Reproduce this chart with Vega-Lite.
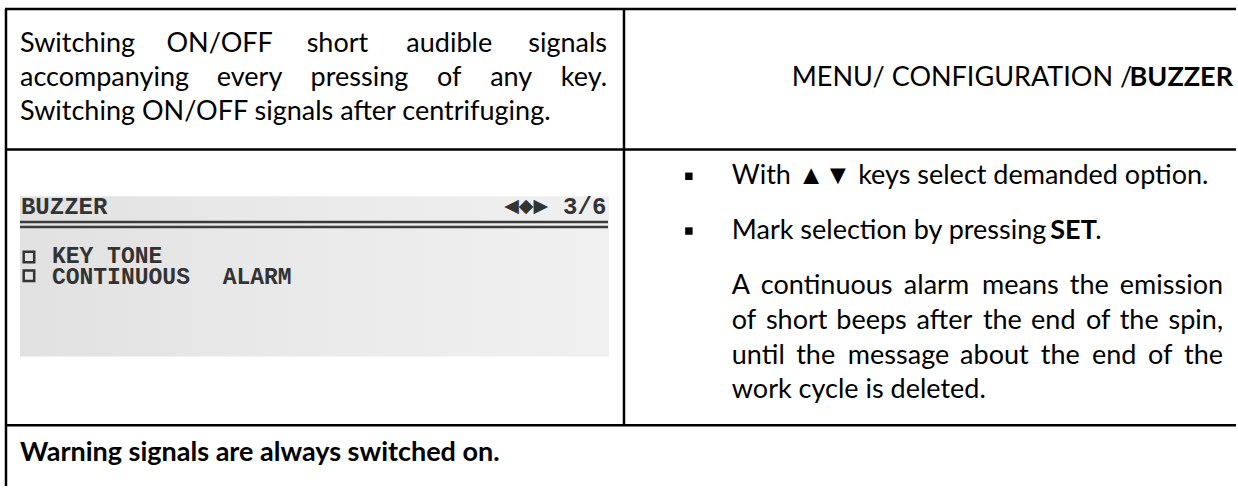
{
  "$schema": "https://vega.github.io/schema/vega-lite/v6.json",
  "width": 1238,
  "height": 488,
  "padding": 0,
  "autosize": {"type": "fit", "contains": "padding"},
  "background": "white",
  "config": {"view": {"stroke": null}, "font": "Lato"},
  "datasets": {
    "lcd": [{"x": 20, "x2": 610, "y": 197, "y2": 358}],
    "lines": [
      {"x": 5, "x2": 1238, "y": 9, "y2": 9},
      {"x": 6, "x2": 6, "y": 9, "y2": 488},
      {"x": 625, "x2": 625, "y": 9, "y2": 427},
      {"x": 5, "x2": 1238, "y": 150, "y2": 150},
      {"x": 5, "x2": 1238, "y": 427, "y2": 427}
    ],
    "lcdLines": [
      {"x": 20, "x2": 609, "y": 223, "y2": 223},
      {"x": 20, "x2": 609, "y": 228, "y2": 228}
    ],
    "bodyLeft": [
      {"x": 20, "y": 44, "t": "Switching"},
      {"x": 20, "y": 78, "t": "accompanying"},
      {"x": 20, "y": 112, "t": "Switching ON/OFF signals after centrifuging."},
      {"x": 733, "y": 177, "t": "With ▲▼ keys select demanded option."},
      {"x": 733, "y": 232, "t": "Mark selection by pressing"},
      {"x": 1097, "y": 232, "t": "."},
      {"x": 733, "y": 287, "t": "A"},
      {"x": 733, "y": 322, "t": "of"},
      {"x": 733, "y": 357, "t": "until"},
      {"x": 733, "y": 392, "t": "work cycle is deleted."}
    ],
    "bodyCenter": [
      {"x": 220, "y": 44, "t": "ON/OFF"},
      {"x": 338, "y": 44, "t": "short"},
      {"x": 450, "y": 44, "t": "audible"},
      {"x": 250, "y": 78, "t": "every"},
      {"x": 360, "y": 78, "t": "pressing"},
      {"x": 450, "y": 78, "t": "of"},
      {"x": 512, "y": 78, "t": "any"},
      {"x": 828, "y": 287, "t": "continuous"},
      {"x": 938, "y": 287, "t": "alarm"},
      {"x": 1022, "y": 287, "t": "means"},
      {"x": 1091, "y": 287, "t": "the"},
      {"x": 798, "y": 322, "t": "short"},
      {"x": 873, "y": 322, "t": "beeps"},
      {"x": 946, "y": 322, "t": "after"},
      {"x": 1004, "y": 322, "t": "the"},
      {"x": 1055, "y": 322, "t": "end"},
      {"x": 1100, "y": 322, "t": "of"},
      {"x": 1141, "y": 322, "t": "the"},
      {"x": 817, "y": 357, "t": "the"},
      {"x": 900, "y": 357, "t": "message"},
      {"x": 996, "y": 357, "t": "about"},
      {"x": 1062, "y": 357, "t": "the"},
      {"x": 1116, "y": 357, "t": "end"},
      {"x": 1162, "y": 357, "t": "of"}
    ],
    "bodyRight": [
      {"x": 608, "y": 44, "t": "signals"},
      {"x": 608, "y": 78, "t": "key."},
      {"x": 1225, "y": 287, "t": "emission"},
      {"x": 1225, "y": 322, "t": "spin,"},
      {"x": 1225, "y": 357, "t": "the"},
      {"x": 1134, "y": 78, "t": "MENU/ CONFIGURATION /"}
    ],
    "boldRight": [{"x": 1235, "y": 78, "t": "BUZZER"}],
    "boldLeft": [
      {"x": 1052, "y": 232, "t": "SET"},
      {"x": 20, "y": 455, "t": "Warning signals are always switched on."}
    ],
    "bullets": [{"x": 690, "y": 177}, {"x": 690, "y": 232}],
    "lcdBold": [
      {"x": 21, "y": 208, "t": "BUZZER"},
      {"x": 564, "y": 208, "t": "3/6"}
    ],
    "lcdArrows": [{"x": 527, "y": 207, "t": "◀◆▶"}],
    "lcdText": [
      {"x": 52, "y": 257, "t": "KEY TONE"},
      {"x": 52, "y": 278, "t": "CONTINUOUS"},
      {"x": 223, "y": 278, "t": "ALARM"}
    ],
    "lcdBoxes": [{"x": 29, "y": 258}, {"x": 29, "y": 277}]
  },
  "encoding": {
    "x": {"field": "x", "type": "quantitative", "scale": {"domain": [0, 1238], "nice": false, "zero": false}, "axis": null},
    "y": {"field": "y", "type": "quantitative", "scale": {"domain": [0, 488], "reverse": true, "nice": false, "zero": false}, "axis": null}
  },
  "layer": [
    {
      "data": {"name": "lcd"},
      "mark": {"type": "rect", "color": {"gradient": "linear", "x1": 0, "y1": 0, "x2": 1, "y2": 0, "stops": [{"offset": 0, "color": "#e1e1e1"}, {"offset": 0.5, "color": "#eaeaea"}, {"offset": 1, "color": "#f0f0f0"}]}},
      "encoding": {"x2": {"field": "x2"}, "y2": {"field": "y2"}}
    },
    {
      "data": {"name": "lcdLines"},
      "mark": {"type": "rule", "color": "#3c3c3c", "strokeWidth": 2.5},
      "encoding": {"x2": {"field": "x2"}, "y2": {"field": "y2"}}
    },
    {
      "data": {"name": "lines"},
      "mark": {"type": "rule", "color": "#000000", "strokeWidth": 2.5},
      "encoding": {"x2": {"field": "x2"}, "y2": {"field": "y2"}}
    },
    {
      "data": {"name": "bodyLeft"},
      "mark": {"type": "text", "align": "left", "baseline": "middle", "font": "Lato", "fontSize": 27, "color": "#000000"},
      "encoding": {"text": {"field": "t"}}
    },
    {
      "data": {"name": "bodyCenter"},
      "mark": {"type": "text", "align": "center", "baseline": "middle", "font": "Lato", "fontSize": 27, "color": "#000000"},
      "encoding": {"text": {"field": "t"}}
    },
    {
      "data": {"name": "bodyRight"},
      "mark": {"type": "text", "align": "right", "baseline": "middle", "font": "Lato", "fontSize": 27, "color": "#000000"},
      "encoding": {"text": {"field": "t"}}
    },
    {
      "data": {"name": "boldRight"},
      "mark": {"type": "text", "align": "right", "baseline": "middle", "font": "Lato", "fontSize": 27, "fontWeight": "bold", "color": "#000000"},
      "encoding": {"text": {"field": "t"}}
    },
    {
      "data": {"name": "boldLeft"},
      "mark": {"type": "text", "align": "left", "baseline": "middle", "font": "Lato", "fontSize": 27, "fontWeight": "bold", "color": "#000000"},
      "encoding": {"text": {"field": "t"}}
    },
    {
      "data": {"name": "bullets"},
      "mark": {"type": "point", "shape": "square", "size": 55, "filled": true, "color": "#000000", "opacity": 1},
      "encoding": {}
    },
    {
      "data": {"name": "lcdBold"},
      "mark": {"type": "text", "align": "left", "baseline": "middle", "font": "Liberation Mono", "fontSize": 24, "fontWeight": "bold", "color": "#333333"},
      "encoding": {"text": {"field": "t"}}
    },
    {
      "data": {"name": "lcdArrows"},
      "mark": {"type": "text", "align": "center", "baseline": "middle", "font": "DejaVu Sans", "fontSize": 19, "color": "#333333"},
      "encoding": {"text": {"field": "t"}}
    },
    {
      "data": {"name": "lcdText"},
      "mark": {"type": "text", "align": "left", "baseline": "middle", "font": "Liberation Mono", "fontSize": 23, "fontWeight": "bold", "color": "#333333"},
      "encoding": {"text": {"field": "t"}}
    },
    {
      "data": {"name": "lcdBoxes"},
      "mark": {"type": "point", "shape": "square", "size": 110, "filled": false, "color": "#333333", "strokeWidth": 2.5, "opacity": 1},
      "encoding": {}
    }
  ]
}
